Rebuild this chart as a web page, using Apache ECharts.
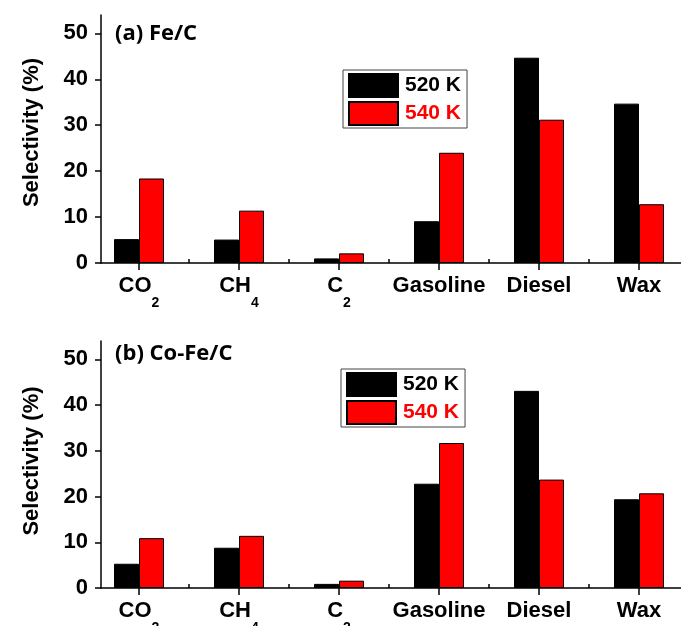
<!DOCTYPE html>
<html>
<head>
<meta charset="utf-8">
<script src="https://cdn.jsdelivr.net/npm/echarts@6/dist/echarts.min.js"></script>
<style>
html,body{margin:0;padding:0;background:#fff;}
#chart{width:681px;height:626px;}
</style>
</head>
<body>
<div id="chart"></div>
<script>
// ---- data ----
const catMain = ['CO', 'CH', 'C', 'Gasoline', 'Diesel', 'Wax'];
const catSub  = ['2', '4', '2', '', '', ''];
const catPos  = [1, 2, 3, 4, 5, 6];
const seriesNames = ['520 K', '540 K'];
const feC_520  = [5.2, 5.1, 1.0, 9.1, 44.7, 34.7];
const feC_540  = [18.4, 11.4, 2.1, 24.0, 31.2, 12.8];
const coFe_520 = [5.3, 8.8, 0.9, 22.8, 43.1, 19.4];
const coFe_540 = [10.9, 11.4, 1.6, 31.7, 23.7, 20.7];
const yMajor = [0, 10, 20, 30, 40, 50];
const yMinor = [5, 15, 25, 35, 45];
const xMinor = [1.5, 2.5, 3.5, 4.5, 5.5];
const panelTitles = ['(a) Fe/C', '(b) Co-Fe/C'];
const yName = 'Selectivity (%)';

const pairs = (vals) => vals.map((v, i) => [catPos[i], v]);
const ARIAL = '"Liberation Sans", Arial, sans-serif';

const grids = [
  {left: 101, right: 0, top: 15, height: 248, containLabel: false, outerBoundsMode: 'none'},
  {left: 101, right: 0, top: 341, height: 247, containLabel: false, outerBoundsMode: 'none'}
];

function xAxes(gi) {
  return [
    {
      type: 'value', gridIndex: gi, min: 0.62, max: 6.42,
      splitLine: {show: false},
      axisLine: {show: true, onZero: false, lineStyle: {color: '#000', width: 1.5}},
      axisTick: {show: true, inside: false, length: 7, customValues: catPos, lineStyle: {color: '#000', width: 1.5}},
      axisLabel: {
        show: true, margin: 25, customValues: catPos,
        formatter: function (v) {
          const i = Math.round(v) - 1;
          if (i < 0 || i >= catMain.length) return '';
          return catSub[i] ? '{m|' + catMain[i] + '}{s|' + catSub[i] + '}' : '{m|' + catMain[i] + '}';
        },
        rich: {
          m: {fontFamily: ARIAL, fontWeight: 'bold', fontSize: 22, color: '#000', lineHeight: 22, padding: [0, 0, 13, 0], verticalAlign: 'bottom'},
          s: {fontFamily: ARIAL, fontWeight: 'bold', fontSize: 14, color: '#000', lineHeight: 14, padding: [0, 0, 0, 0], verticalAlign: 'bottom'}
        }
      }
    },
    {
      type: 'value', gridIndex: gi, min: 0.62, max: 6.42,
      splitLine: {show: false},
      axisLine: {show: false},
      axisTick: {show: true, inside: false, length: 4, customValues: xMinor, lineStyle: {color: '#000', width: 1.5}},
      axisLabel: {show: false}
    }
  ];
}

function yAxes(gi, namePad) {
  return [
    {
      type: 'value', gridIndex: gi, min: 0, max: 54,
      splitLine: {show: false},
      axisLine: {show: true, onZero: false, lineStyle: {color: '#000', width: 1.5}},
      axisTick: {show: true, inside: false, length: 6, customValues: yMajor, lineStyle: {color: '#000', width: 1.5}},
      axisLabel: {show: true, margin: 13, customValues: yMajor, fontFamily: ARIAL, fontWeight: 'bold', fontSize: 22, color: '#000'},
      name: yName, nameLocation: 'middle', nameGap: 58, nameRotate: 90,
      nameTextStyle: {fontFamily: ARIAL, fontWeight: 'bold', fontSize: 22, color: '#000', padding: namePad}
    },
    {
      type: 'value', gridIndex: gi, min: 0, max: 54,
      splitLine: {show: false},
      axisLine: {show: false},
      axisTick: {show: true, inside: false, length: 3, customValues: yMinor, lineStyle: {color: '#000', width: 1.5}},
      axisLabel: {show: false}
    }
  ];
}

function bars(name, vals, xi, yi, color) {
  return {
    type: 'bar', name: name, data: pairs(vals), xAxisIndex: xi, yAxisIndex: yi,
    barWidth: 25, barGap: '0%',
    itemStyle: {color: color, borderColor: '#000', borderWidth: 1},
    emphasis: {disabled: true}, animation: false
  };
}

function legend(left, top) {
  return {
    orient: 'vertical', left: left, top: top,
    itemWidth: 49, itemHeight: 23, itemGap: 3,
    padding: [3, 6, 2, 5],
    borderColor: '#444', borderWidth: 1, backgroundColor: '#fff',
    icon: 'rect', selectedMode: false,
    textStyle: {fontFamily: ARIAL, fontWeight: 'bold', fontSize: 21, lineHeight: 23, padding: [0, 0, 0, 2]},
    data: [
      {name: seriesNames[0], textStyle: {color: '#000'}},
      {name: seriesNames[1], textStyle: {color: '#ff0000'}}
    ]
  };
}

const chart = echarts.init(document.getElementById('chart'), null, {renderer: 'canvas'});
chart.setOption({
  animation: false,
  backgroundColor: '#fff',
  grid: grids,
  xAxis: [].concat(xAxes(0), xAxes(1)),
  yAxis: [].concat(yAxes(0, [0, 0, 0, 13]), yAxes(1, [0, 0, 0, 7])),
  title: [
    {text: panelTitles[0], left: 115, top: 23, padding: 0,
     textStyle: {fontFamily: '"Open Sans", sans-serif', fontWeight: 'bold', fontSize: 22, color: '#000'}},
    {text: panelTitles[1], left: 115, top: 343, padding: 0,
     textStyle: {fontFamily: '"Open Sans", sans-serif', fontWeight: 'bold', fontSize: 22, color: '#000'}}
  ],
  legend: [legend(343, 70), legend(341, 369)],
  series: [
    bars(seriesNames[0], feC_520, 0, 0, '#000000'),
    bars(seriesNames[1], feC_540, 0, 0, '#ff0000'),
    bars(seriesNames[0], coFe_520, 2, 2, '#000000'),
    bars(seriesNames[1], coFe_540, 2, 2, '#ff0000')
  ]
});
</script>
</body>
</html>
